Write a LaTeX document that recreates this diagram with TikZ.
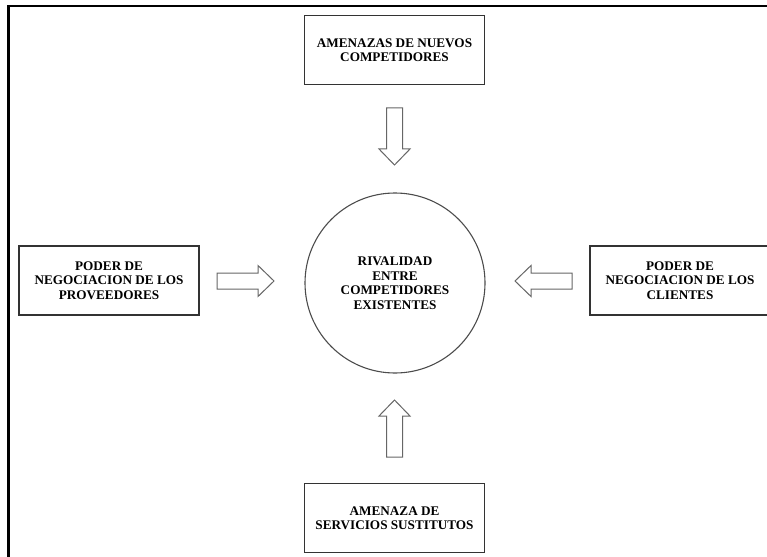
\documentclass[tikz,border=0pt]{standalone}
\usepackage{fontspec}
\setmainfont{Liberation Serif}

\tikzset{
  force/.style={draw=black!80, line width=1.1pt, inner sep=0pt, align=center,
    font=\bfseries\fontsize{13.2}{14.5}\selectfont,
    minimum width=180pt, minimum height=69pt},
  rival/.style={circle, draw=black!70, line width=1.1pt, inner sep=0pt, align=center,
    font=\bfseries\fontsize{13.2}{14.5}\selectfont, minimum size=180pt},
  blockarrow/.style={draw=black!60, line width=1pt, fill=white}
}

\begin{document}
\begin{tikzpicture}[x=1pt, y=-1pt]
\useasboundingbox (0,0) rectangle (767,556);

% frame
\draw[line width=2.6pt] (8.5,560) -- (8.5,6) -- (770,6);

% forces
\node[force] (nuevos) at (394.5,50) {AMENAZAS DE NUEVOS\\COMPETIDORES};
\node[force] (proveedores) at (109,280.5) {PODER DE\\NEGOCIACION DE LOS\\PROVEEDORES};
\node[force] (clientes) at (680,280.5) {PODER DE\\NEGOCIACION DE LOS\\CLIENTES};
\node[force] (sustitutos) at (394.5,518) {AMENAZA DE\\SERVICIOS SUSTITUTOS};

% centre
\node[rival] (rivalidad) at (395,283) {RIVALIDAD\\ENTRE\\COMPETIDORES\\EXISTENTES};

% block arrows towards the centre
\foreach \bx/\by/\ang in {394.5/108/-90, 394.5/457/90, 217/281/0, 572/281/180}
  \draw[blockarrow, shift={(\bx,\by)}, rotate=\ang]
    (0,-8) -- (41,-8) -- (41,-15.5) -- (57,0) -- (41,15.5) -- (41,8) -- (0,8) -- cycle;
\end{tikzpicture}
\end{document}
